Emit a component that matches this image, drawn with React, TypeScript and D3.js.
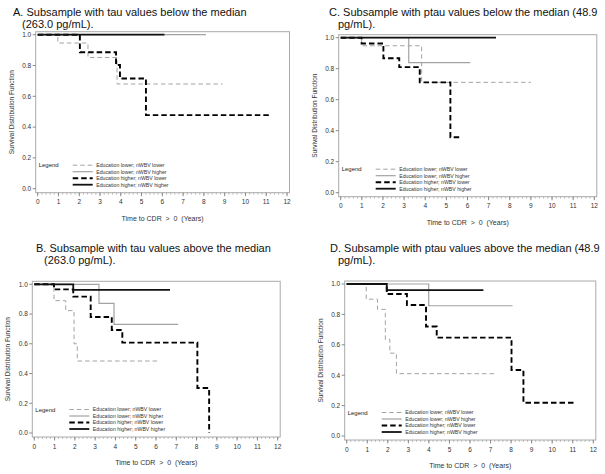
import React from "react";
import * as d3 from "d3";

type Pt = [number, number];

const xTickValues = [0, 1, 2, 3, 4, 5, 6, 7, 8, 9, 10, 11, 12];
const yTickValues = [0, 0.2, 0.4, 0.6, 0.8, 1.0];
const legendLabels = [
  "Education lower; nWBV lower",
  "Education lower; nWBV higher",
  "Education higher; nWBV lower",
  "Education higher; nWBV higher",
];

// Panel A: tau below median
const aLowLow: Pt[] = [[0, 1], [0.97, 0.946], [2.42, 0.852], [3.82, 0.68], [8.9, 0.68]];
const aLowHigh: Pt[] = [[0, 1], [8.1, 1]];
const aHighLow: Pt[] = [[0, 1], [2.03, 0.886], [3.77, 0.803], [3.96, 0.716], [5.21, 0.478], [11.15, 0.478]];
const aHighHigh: Pt[] = [[0, 1], [6.1, 1]];

// Panel B: tau above median
const bLowLow: Pt[] = [[0, 1], [0.97, 0.89], [1.55, 0.823], [1.96, 0.6], [2.12, 0.484], [6.1, 0.484]];
const bLowHigh: Pt[] = [[0, 1], [3.19, 0.872], [3.93, 0.731], [7.09, 0.731]];
const bHighLow: Pt[] = [[0, 1], [0.97, 0.966], [1.92, 0.917], [2.78, 0.78], [3.82, 0.693], [4.34, 0.608], [8.04, 0.303], [8.62, 0], [8.62, 0]];
const bHighHigh: Pt[] = [[0, 1], [1.92, 0.962], [6.69, 0.962]];

// Panel C: ptau below median
const cLowLow: Pt[] = [[0, 1], [0.99, 0.948], [3.83, 0.712], [9.0, 0.712]];
const cLowHigh: Pt[] = [[0, 1], [3.22, 0.839], [6.13, 0.839]];
const cHighLow: Pt[] = [[0, 1], [0.99, 0.963], [2.02, 0.867], [2.77, 0.81], [3.74, 0.712], [5.19, 0.358], [5.68, 0.358]];
const cHighHigh: Pt[] = [[0, 1], [7.35, 1]];

// Panel D: ptau above median
const dLowLow: Pt[] = [[0, 1], [0.95, 0.9], [1.5, 0.833], [1.88, 0.636], [2.1, 0.545], [2.42, 0.41], [7.26, 0.41]];
const dLowHigh: Pt[] = [[0, 1], [3.99, 0.857], [8.07, 0.857]];
const dHighLow: Pt[] = [[0, 1], [1.95, 0.934], [2.93, 0.862], [3.86, 0.72], [4.38, 0.647], [8.02, 0.434], [8.6, 0.219], [11.07, 0.219]];
const dHighHigh: Pt[] = [[0, 1], [1.95, 0.96], [6.65, 0.96]];

const seriesStyles = [
  { stroke: "#a3a3a3", width: 1, dash: "4.5,3" },
  { stroke: "#a3a3a3", width: 1.2, dash: "" },
  { stroke: "#000", width: 1.9, dash: "5.5,3" },
  { stroke: "#111", width: 1.8, dash: "" },
];

const panels = [
  {
    title1: "A. Subsample with tau values below the median",
    title2: "(263.0 pg/mL).",
    series: [aLowLow, aLowHigh, aHighLow, aHighHigh],
    tx: 13, tx2: 22, ty: 16,
    x0: 37.7, x12: 287, y1: 34.7, y0: 188.7,
  },
  {
    title1: "B. Subsample with tau values above the median",
    title2: "(263.0 pg/mL).",
    series: [bLowLow, bLowHigh, bHighLow, bHighHigh],
    tx: 36, tx2: 44, ty: 252,
    x0: 34.3, x12: 277.7, y1: 284.3, y0: 433,
  },
  {
    title1: "C. Subsample with ptau values below the median (48.9",
    title2: "pg/mL).",
    series: [cLowLow, cLowHigh, cHighLow, cHighHigh],
    tx: 329, tx2: 338, ty: 16,
    x0: 340.7, x12: 594.3, y1: 37.7, y0: 192.7,
  },
  {
    title1: "D. Subsample with ptau values above the median (48.9",
    title2: "pg/mL).",
    series: [dLowLow, dLowHigh, dHighLow, dHighHigh],
    tx: 330, tx2: 338, ty: 252,
    x0: 346.7, x12: 593.3, y1: 284, y0: 436,
  },
];

const FONT = "'Liberation Sans', Arial, Helvetica, sans-serif";

function Panel({ p }: { p: (typeof panels)[number] }) {
  const x = d3.scaleLinear().domain([0, 12]).range([p.x0, p.x12]);
  const y = d3.scaleLinear().domain([0, 1]).range([p.y0, p.y1]);
  const line = d3
    .line<Pt>()
    .x((d) => x(d[0]))
    .y((d) => y(d[1]))
    .curve(d3.curveStepAfter);
  const fl = p.x0 - 2;
  const fr = p.x12 + 2.5;
  const ft = p.y1 - 3;
  const fb = p.y0 + 4;
  const minor = d3.range(0, 12.0001, 0.2);
  const legY = (i: number) => y(0) - 23.5 + i * 6.5;
  return (
    <g fontFamily={FONT}>
      <text x={p.tx} y={p.ty} fontSize={11} fill="#111">{p.title1}</text>
      <text x={p.tx2} y={p.ty + 12} fontSize={11} fill="#111">{p.title2}</text>
      <rect x={fl} y={ft} width={fr - fl} height={fb - ft} fill="#fff" stroke="#aaa" strokeWidth={1} />
      {yTickValues.map((v) => (
        <g key={"y" + v}>
          <line x1={fl - 3} x2={fl} y1={y(v)} y2={y(v)} stroke="#888" />
          <text x={fl - 4.5} y={y(v) + 2.3} fontSize={6.5} textAnchor="end" fill="#333">{v.toFixed(1)}</text>
        </g>
      ))}
      {minor.map((v) => (
        <line key={"m" + v} x1={x(v)} x2={x(v)} y1={fb} y2={fb + 2} stroke="#999" strokeWidth={0.6} />
      ))}
      {xTickValues.map((v) => (
        <g key={"x" + v}>
          <line x1={x(v)} x2={x(v)} y1={fb} y2={fb + 3.5} stroke="#888" />
          <text x={x(v)} y={fb + 11.5} fontSize={6.5} textAnchor="middle" fill="#333">{String(v)}</text>
        </g>
      ))}
      <text
        x={(fl + fr) / 2}
        y={fb + 28}
        fontSize={7}
        textAnchor="middle"
        fill="#333"
        style={{ whiteSpace: "pre" }}
      >
        {"Time to CDR  >  0  (Years)"}
      </text>
      <text
        transform={`translate(${fl - 22},${(ft + fb) / 2}) rotate(-90)`}
        fontSize={6.5}
        textAnchor="middle"
        fill="#333"
      >
        Survival Distribution Function
      </text>
      {p.series.map((s, i) => (
        <path
          key={"s" + i}
          d={line(s) || ""}
          fill="none"
          stroke={seriesStyles[i].stroke}
          strokeWidth={seriesStyles[i].width}
          strokeDasharray={seriesStyles[i].dash || undefined}
        />
      ))}
      <text x={x(0) + 1} y={legY(0) + 2} fontSize={6} fill="#222">Legend</text>
      {legendLabels.map((lab, i) => (
        <g key={"l" + i}>
          <line
            x1={x(0) + 35}
            x2={x(0) + 55}
            y1={legY(i)}
            y2={legY(i)}
            stroke={seriesStyles[i].stroke}
            strokeWidth={seriesStyles[i].width}
            strokeDasharray={seriesStyles[i].dash || undefined}
          />
          <text x={x(0) + 58.5} y={legY(i) + 1.8} fontSize={5.2} fill="#333">{lab}</text>
        </g>
      ))}
    </g>
  );
}

export default function App() {
  return (
    <svg
      width={605}
      height={474}
      style={{ position: "absolute", left: 0, top: 0, background: "#fff" }}
    >
      <rect x={0} y={0} width={605} height={474} fill="#fff" />
      {panels.map((p, i) => (
        <Panel key={i} p={p} />
      ))}
    </svg>
  );
}
